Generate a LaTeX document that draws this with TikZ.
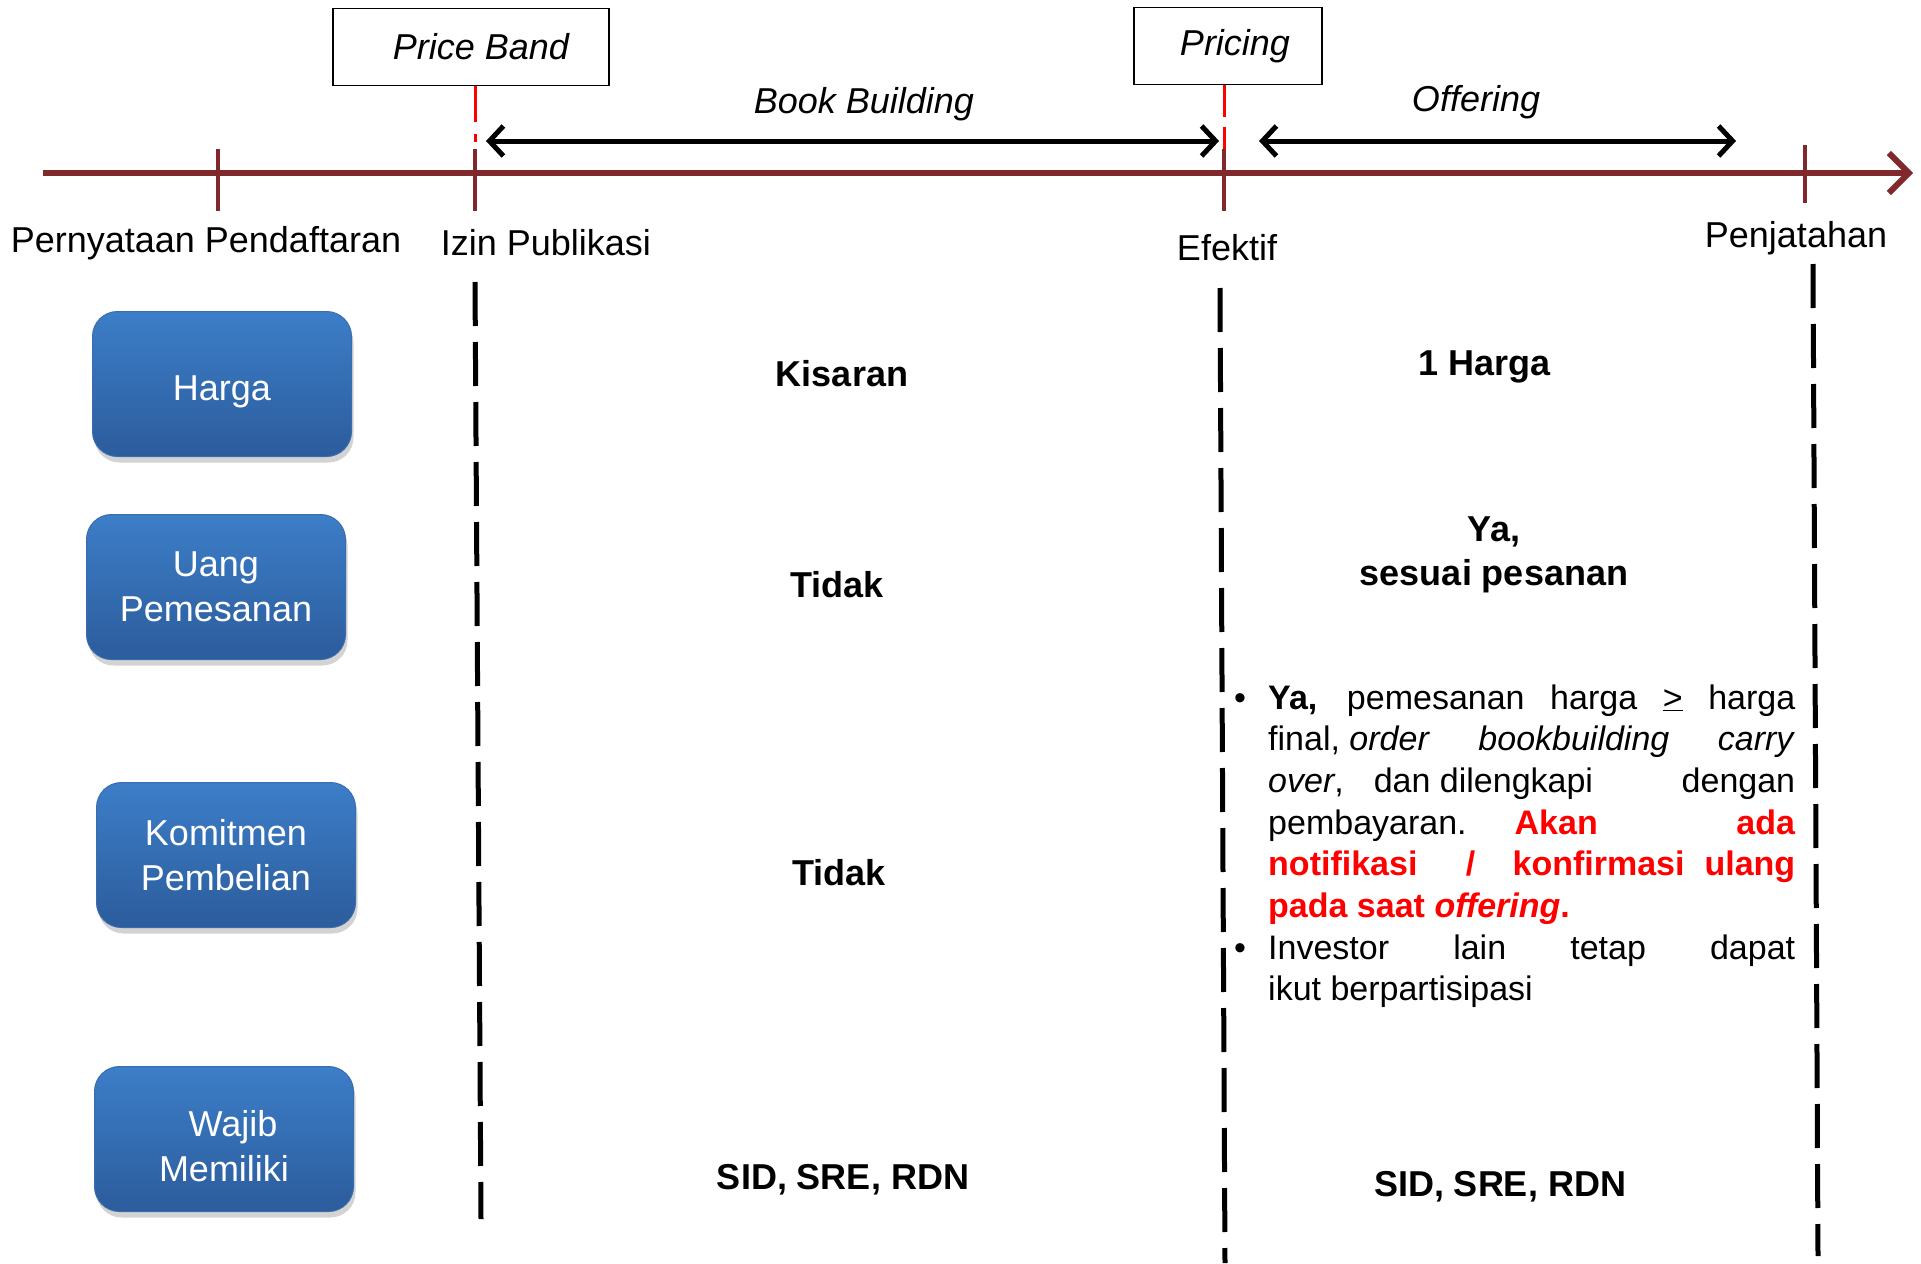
\documentclass[tikz,border=0pt]{standalone}
\usepackage{fontspec}
\setmainfont{Liberation Sans}
\usetikzlibrary{arrows.meta,shadows}
\definecolor{tl}{RGB}{128,40,44}
\definecolor{btop}{RGB}{60,126,200}
\definecolor{bbot}{RGB}{44,92,156}
\definecolor{bedge}{RGB}{58,108,176}
\begin{document}
\begin{tikzpicture}[x=1pt,y=-1pt,
  txt/.style={font=\fontsize{36}{45}\selectfont, inner sep=0pt, align=center},
  btxt/.style={txt, font=\fontsize{36}{44}\selectfont\bfseries},
  topbox/.style={draw=black, line width=1.5pt, minimum height=77pt, inner sep=0pt, font=\fontsize{36}{43}\selectfont\itshape},
  bluebox/.style={rounded corners=25pt, minimum width=259pt, minimum height=145pt,
    top color=btop, bottom color=bbot, draw=bedge, line width=1pt, text=white,
    font=\fontsize{36}{45}\selectfont, align=center,
    drop shadow={opacity=0.35, shadow xshift=2pt, shadow yshift=-6pt}},
  tick/.style={draw=tl, line width=4pt},
  vdash/.style={draw=black, line width=5pt, dash pattern=on 44pt off 16pt},
  rdash/.style={draw=red, line width=3pt},
  dbl/.style={draw=black, line width=5pt, {Straight Barb[length=14pt,width=30pt]}-{Straight Barb[length=14pt,width=30pt]}},
  bl/.style={font=\fontsize{34}{42}\selectfont, inner sep=0pt, anchor=base west}
]
\useasboundingbox (0,0) rectangle (1921,1263);
% timeline
\coordinate (tlA) at (43,173);
\coordinate (tlB) at (1913,173);
\draw[draw=tl, line width=6pt, -{Straight Barb[length=20pt,width=40pt]}] (tlA) -- (tlB);
% ticks
\coordinate (t1top) at (218,149); \coordinate (t1bot) at (218,211);
\coordinate (t2top) at (475,149); \coordinate (t2bot) at (475,211);
\coordinate (t3top) at (1224,149); \coordinate (t3bot) at (1224,211);
\coordinate (t4top) at (1805,145); \coordinate (t4bot) at (1805,203);
\draw[tick] (t1top) -- (t1bot);
\draw[tick] (t2top) -- (t2bot);
\draw[tick] (t3top) -- (t3bot);
\draw[tick] (t4top) -- (t4bot);
% top boxes
\node[topbox, minimum width=276pt] (pb) at (471,47) {\hspace*{20pt}Price Band};
\node[topbox, minimum width=188pt] (pr) at (1228,46) {\hspace*{14pt}Pricing};
\draw[rdash, dash pattern=on 36pt off 12pt on 8pt off 20pt] (pb.south -| t2top) -- (t2top);
\draw[rdash, dash pattern=on 32pt off 10pt on 40pt] (pr.south -| t3top) -- (t3top);
% double arrows
\coordinate (bbA) at (486,141);
\coordinate (bbB) at (1219,141);
\draw[dbl] (bbA) -- (bbB);
\node[txt, font=\fontsize{36}{43}\selectfont\itshape] (bbl) at (864,104) {Book Building};
\coordinate (ofA) at (1259,141);
\coordinate (ofB) at (1736,141);
\draw[dbl] (ofA) -- (ofB);
\node[txt, font=\fontsize{36}{43}\selectfont\itshape] (ofl) at (1476,102) {Offering};
% timeline labels
\node[txt] (l1) at (206,243) {Pernyataan Pendaftaran};
\node[txt] (l2) at (546,243) {Izin Publikasi};
\node[txt] (l3) at (1227,248) {Efektif};
\node[txt] (l4) at (1796,238) {Penjatahan};
% vertical dashed lines
\coordinate (v1a) at (475,282); \coordinate (v1b) at (481,1219);
\coordinate (v2a) at (1220,288); \coordinate (v2b) at (1225,1263);
\coordinate (v3a) at (1813,264); \coordinate (v3b) at (1818,1256);
\draw[vdash] (v1a) -- (v1b);
\draw[vdash] (v2a) -- (v2b);
\draw[vdash] (v3a) -- (v3b);
% blue boxes
\node[bluebox] (b1) at (222,384) {\raisebox{-8pt}[\height][\depth]{Harga}};
\node[bluebox] (b2) at (216,587) {Uang\\Pemesanan};
\node[bluebox] (b3) at (226,855) {Komitmen\\Pembelian};
\node[bluebox] (b4) at (224,1139) {\raisebox{-7pt}[\height][\depth]{\parbox{250pt}{\centering\hspace*{18pt}Wajib\\Memiliki}}};
% middle column
\node[btxt] (m1) at (842,374) {Kisaran};
\node[btxt] (m2) at (837,585) {Tidak};
\node[btxt] (m3) at (839,873) {Tidak};
\node[btxt] (m4) at (843,1180) {SID, SRE, RDN};
% right column
\node[btxt] (r1) at (1485,367) {1 Harga};
\node[btxt] (r2) at (1494,555) {Ya,\\sesuai pesanan};
\node[btxt] (r4) at (1500,1187) {SID, SRE, RDN};
% bullet block
\node[bl] (bu1) at (1234,709) {•};
\node[bl] (bu2) at (1234,959) {•};
\node[bl] (k1) at (1268,709) {\makebox[527pt][s]{\textbf{Ya,} pemesanan harga \underline{>} harga}};
\node[bl] (k2) at (1268,750.7) {\makebox[527pt][l]{final, \textit{order}\hfill\textit{bookbuilding}\hfill\textit{carry}}};
\node[bl] (k3) at (1268,792.4) {\makebox[527pt][l]{\textit{over},\hspace{30pt}dan dilengkapi\hfill dengan}};
\node[bl] (k4) at (1268,834.1) {\makebox[527pt][l]{pembayaran.\hspace{48pt}\textcolor{red}{\textbf{Akan}}\hfill\textcolor{red}{\textbf{ada}}}};
\node[bl, text=red, font=\fontsize{34}{42}\selectfont\bfseries] (k5) at (1268,875.8) {\makebox[527pt][l]{notifikasi\hspace{0pt plus 1.3fill}/\hspace{0pt plus 1fill}konfirmasi\hspace{20pt}ulang}};
\node[bl, text=red, font=\fontsize{34}{42}\selectfont\bfseries] (k6) at (1268,917.5) {pada saat \textit{offering}.};
\node[bl] (k7) at (1268,959.2) {\makebox[527pt][s]{Investor lain tetap dapat}};
\node[bl] (k8) at (1268,1000.9) {ikut berpartisipasi};
\end{tikzpicture}
\end{document}
